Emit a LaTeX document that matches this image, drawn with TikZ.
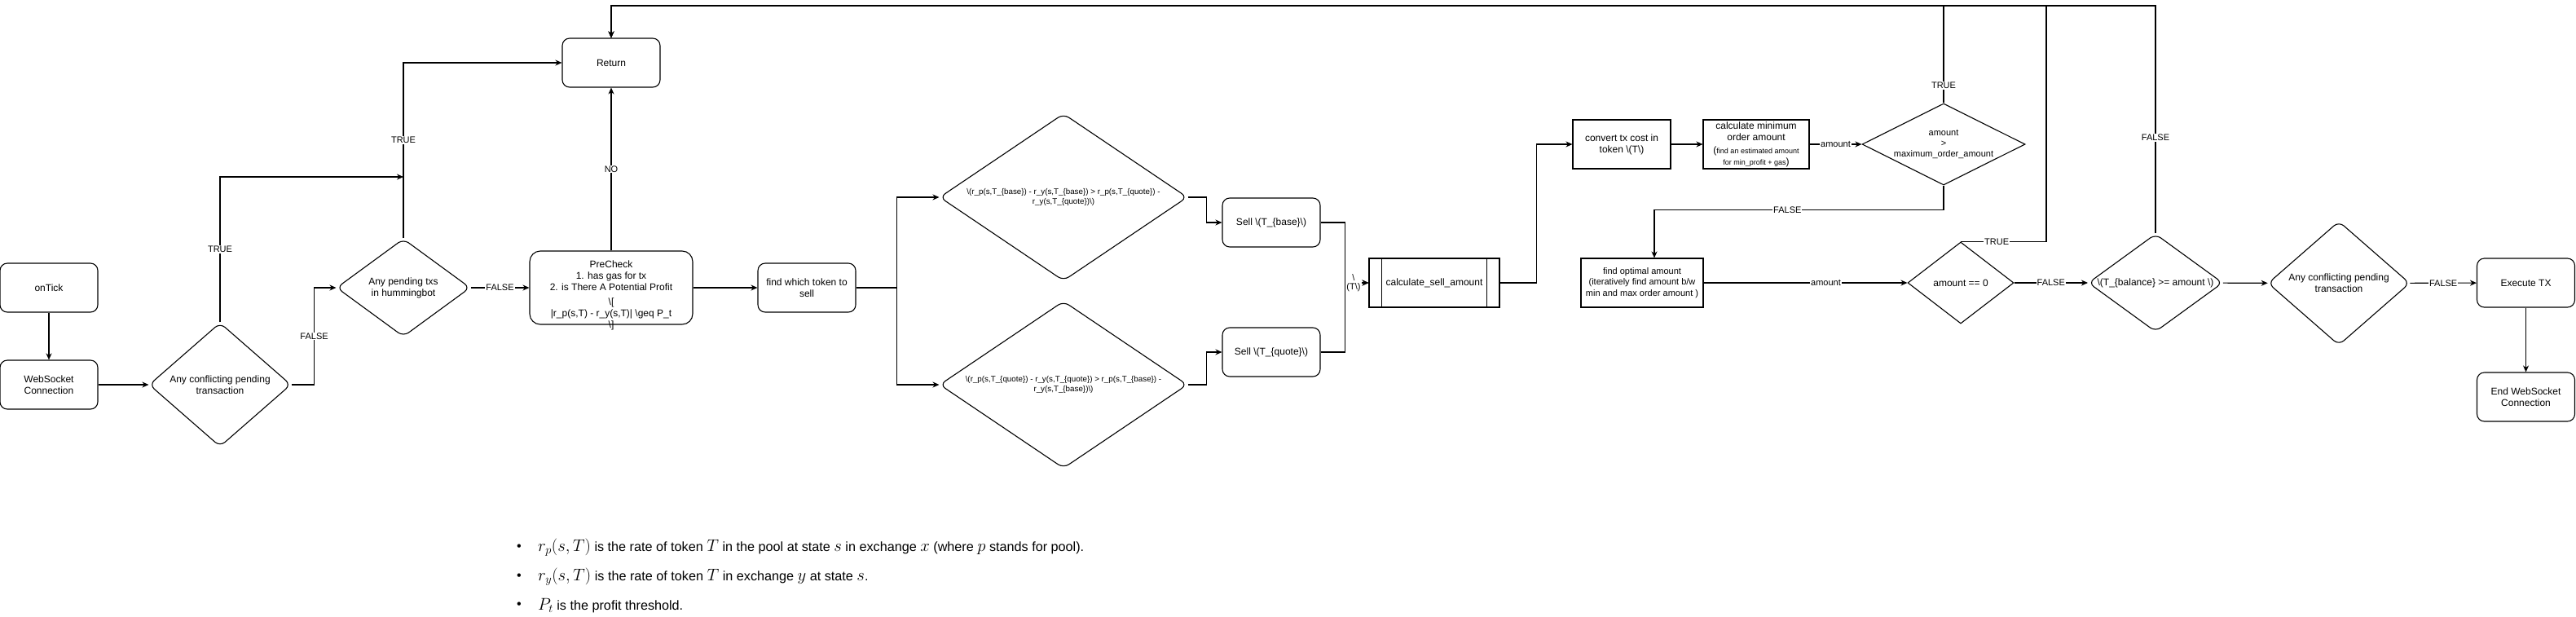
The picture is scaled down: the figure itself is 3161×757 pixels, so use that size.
\documentclass[tikz,border=0pt]{standalone}
\usepackage[no-math]{fontspec}
\setmainfont{Liberation Sans}
\usetikzlibrary{shapes.geometric,arrows.meta}
\newcommand\mybs{\textbackslash}
\newcommand\bigmath[1]{{\fontsize{19.5}{19.5}\selectfont$#1$}}
\begin{document}
\begin{tikzpicture}[x=1pt,y=-1pt,
  every node/.style={font=\fontsize{12}{14}\selectfont, align=center},
  box/.style={draw, line width=1.1pt, rounded corners=9pt, minimum width=120pt, minimum height=60pt, inner sep=2pt},
  sbox/.style={draw, line width=1.1pt, minimum width=120pt, minimum height=60pt, inner sep=2pt},
  dia/.style={draw, line width=1.1pt, diamond, inner sep=0pt},
  rdia/.style={dia, rounded corners=8pt},
  conn/.style={line width=1.1pt, -{Stealth[length=8pt,width=7pt,inset=2.5pt]}},
  wire/.style={line width=1.1pt},
  lbl/.style={fill=white, inner sep=1pt, font=\fontsize{11}{12}\selectfont}
]
\fill[white] (0,0) rectangle (3161,757);
\useasboundingbox (0,0) rectangle (3161,757);

% nodes
\node[box] (tick) at (60,353) {onTick};
\node[box] (ws) at (60,472) {WebSocket\\Connection};
\node[rdia, minimum width=174pt, minimum height=152pt, shape aspect=1.15] (d1) at (270,472) {Any conflicting pending\\transaction};
\node[rdia, minimum width=164pt, minimum height=120pt, shape aspect=1.37] (d2) at (495,353) {Any pending txs\\in hummingbot};
\node[box] (ret) at (750,77) {Return};
\node[box, rounded corners=13pt, minimum width=200pt, minimum height=90pt] (pre) at (750,353) {};
\node (pretext) at (750,362) {PreCheck\\1. has gas for tx\\2. is There A Potential Profit\\[4pt]\mybs[\\|r\_p(s,T) - r\_y(s,T)| \mybs{}geq P\_t\\\mybs]};
\node[box] (find) at (990,353) {find which token to\\sell};
\node[rdia, minimum width=304pt, minimum height=205pt, shape aspect=1.5, font=\fontsize{9.8}{11.5}\selectfont] (da) at (1305,242) {\mybs(r\_p(s,T\_\{base\}) - r\_y(s,T\_\{base\}) > r\_p(s,T\_\{quote\}) -\\r\_y(s,T\_\{quote\})\mybs)};
\node[rdia, minimum width=304pt, minimum height=205pt, shape aspect=1.5, font=\fontsize{9.8}{11.5}\selectfont] (db) at (1305,472) {\mybs(r\_p(s,T\_\{quote\}) - r\_y(s,T\_\{quote\}) > r\_p(s,T\_\{base\}) -\\r\_y(s,T\_\{base\})\mybs)};
\node[box] (sb) at (1560,273) {Sell \mybs(T\_\{base\}\mybs)};
\node[box] (sq) at (1560,432) {Sell \mybs(T\_\{quote\}\mybs)};
\node[sbox, minimum width=160pt] (calc) at (1760,347) {calculate\_sell\_amount};
\draw[wire] ([xshift=16pt]calc.north west) -- ([xshift=16pt]calc.south west);
\draw[wire] ([xshift=-16pt]calc.north east) -- ([xshift=-16pt]calc.south east);
\node[sbox] (conv) at (1990,177) {convert tx cost in\\token \mybs(T\mybs)};
\node[sbox, minimum width=130pt] (cmin) at (2155,177) {calculate minimum\\order amount\\[2pt]{\fontsize{12}{12}\selectfont(}{\fontsize{9}{11}\selectfont find an estimated amount}\\{\fontsize{9}{11}\selectfont for min\_profit + gas}{\fontsize{12}{12}\selectfont)}};
\node[dia, minimum width=200pt, minimum height=100pt, shape aspect=2.2, font=\fontsize{11}{13}\selectfont] (dc) at (2385,177) {amount\\>\\maximum\_order\_amount};
\node[sbox, minimum width=150pt, font=\fontsize{11}{13.5}\selectfont] (opt) at (2015,347) {find optimal amount\\(iteratively find amount b/w\\min and max order amount )};
\node[dia, minimum width=130pt, minimum height=100pt, shape aspect=1.3] (z) at (2406,347) {amount == 0};
\node[rdia, minimum width=165pt, minimum height=120pt, shape aspect=1.375] (bal) at (2645,347) {\mybs(T\_\{balance\} >= amount \mybs)};
\node[rdia, minimum width=174pt, minimum height=152pt, shape aspect=1.15] (d2b) at (2870,347.5) {Any conflicting pending\\transaction};
\node[box] (exe) at (3099.5,347) {Execute TX};
\node[box] (end) at (3099.5,487) {End WebSocket\\Connection};

\coordinate (j1) at (d2.north |- 0,217);
\coordinate (topR) at (ret.north |- 0,7);

% connectors
\draw[conn] (tick) -- (ws);
\draw[conn] (ws) -- (d1);
\draw[conn] (d1.east) -- ++(28,0) |- node[lbl, pos=0.25]{FALSE} (d2.west);
\draw[conn] (d1.north) |- node[lbl, pos=0.25]{TRUE} (j1);
\draw[conn] (d2.north) |- node[lbl, pos=0.28]{TRUE} (ret.west);
\draw[conn] (d2.east) -- node[lbl]{FALSE} (pre.west);
\draw[conn] (pre.north) -- node[lbl]{NO} (ret.south);
\draw[conn] (pre.east) -- (find.west);
\draw[conn] (find.east) -- ++(50,0) |- (da.west);
\draw[conn] (find.east) -- ++(50,0) |- (db.west);
\draw[conn] (da.east) -- ++(23,0) |- (sb.west);
\draw[conn] (db.east) -- ++(23,0) |- (sq.west);
\draw[conn] (sb.east) -- ++(30,0) |- (calc.west);
\draw[conn] (sq.east) -- ++(30,0) |- node[lbl, pos=0.68, font=\fontsize{11}{11}\selectfont]{\mybs\\(T\mybs)} (calc.west);
\draw[conn] (calc.east) -- ++(45,0) |- (conv.west);
\draw[conn] (conv) -- (cmin);
\draw[conn] (cmin) -- node[lbl]{amount} (dc);
\draw[conn] (dc.south) -- ++(0,30) -| node[lbl, pos=0.27]{FALSE} ([xshift=15pt]opt.north);
\draw[conn] (opt) -- node[lbl, pos=0.6]{amount} (z);
\draw[conn] (z) -- node[lbl]{FALSE} (bal);
\draw[conn] (bal) -- (d2b);
\draw[conn] (d2b) -- node[lbl]{FALSE} (exe);
\draw[conn] (exe) -- (end);
\draw[conn] (dc.north) |- node[lbl, pos=0.09]{TRUE} (topR) -- (ret.north);
\draw[conn] (z.north) -- node[lbl, pos=0.42]{TRUE} ++(105,0) |- (topR) -- (ret.north);
\draw[conn] (bal.north) |- node[lbl, pos=0.21]{FALSE} (topR) -- (ret.north);

% notes
\begin{scope}[every node/.style={font=\fontsize{16.2}{19}\selectfont, anchor=west, inner sep=0pt}]
\node (bul1) at (634,672) {\textbullet};
\node (bul2) at (634,708) {\textbullet};
\node (bul3) at (634,743) {\textbullet};
\node (n1) at (660,672) {\bigmath{r_p(s,T)} is the rate of token \bigmath{T} in the pool at state \bigmath{s} in exchange \bigmath{x} (where \bigmath{p} stands for pool).};
\node (n2) at (660,708) {\bigmath{r_y(s,T)} is the rate of token \bigmath{T} in exchange \bigmath{y} at state \bigmath{s}.};
\node (n3) at (660,743) {\bigmath{P_t} is the profit threshold.};
\end{scope}
\end{tikzpicture}
\end{document}
